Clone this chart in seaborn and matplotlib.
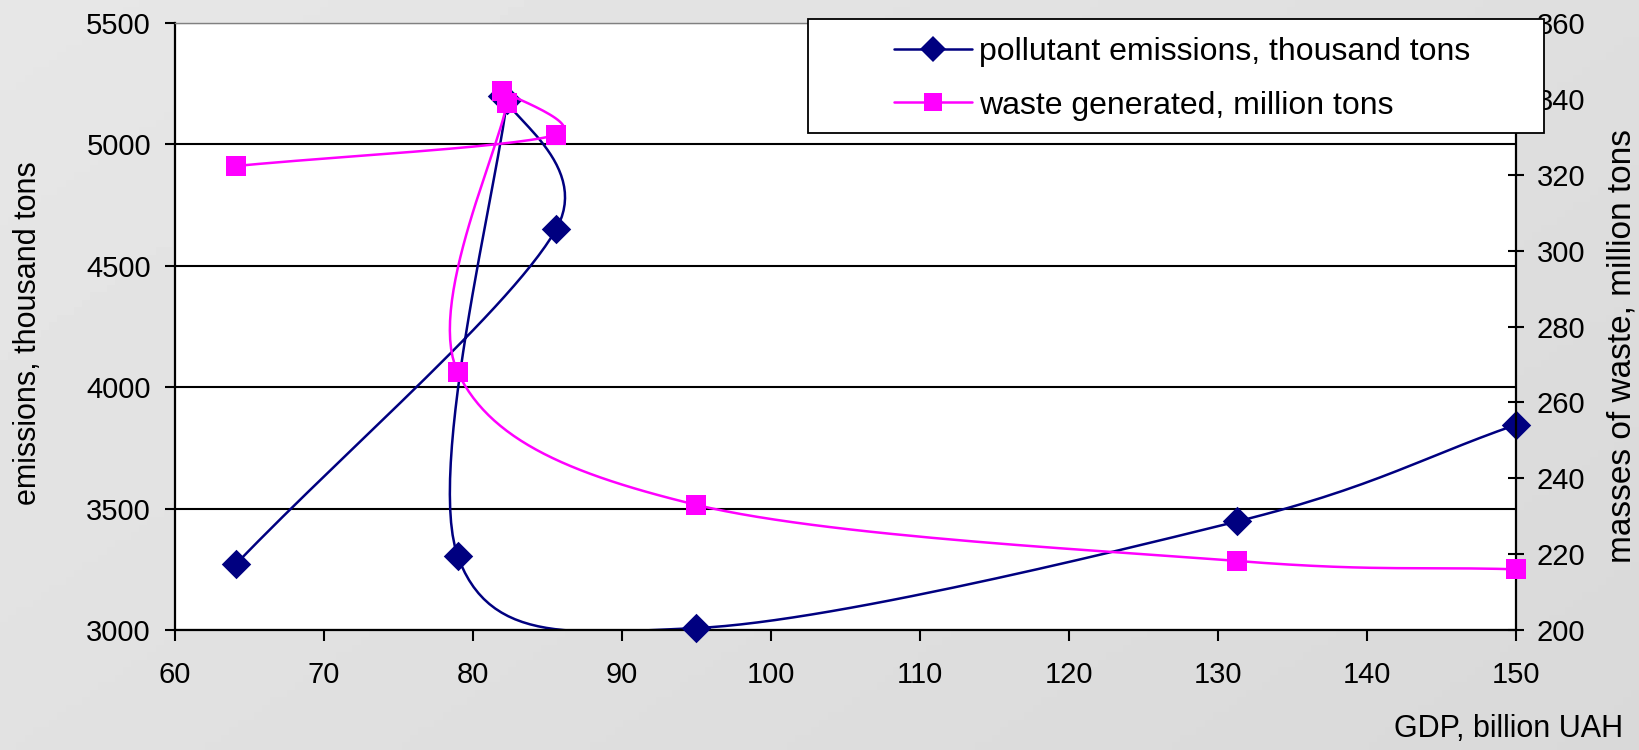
import numpy as np
import pandas as pd
import seaborn as sns
import matplotlib.pyplot as plt
from matplotlib.lines import Line2D
from matplotlib.patches import Rectangle

# GDP (billion UAH) with the two indicators, in the order the points are joined
gdp = [64.1, 85.6, 82.0, 82.3, 79.0, 95.0, 131.3, 150.0]
emissions = [3270, 4650, 5200, 5185, 3305, 3008, 3447, 3845]   # thousand tons
waste = [322.3, 330.5, 342.0, 339.0, 268.0, 233.0, 218.2, 216.0]  # million tons

emis_label = "pollutant emissions, thousand tons"
waste_label = "waste generated, million tons"

df = pd.DataFrame({"gdp": gdp, "emissions": emissions, "waste": waste})

sns.set_theme(style="white")
plt.rcParams["font.family"] = ["Liberation Sans", "DejaVu Sans"]
plt.rcParams["text.color"] = "black"

NAVY = "#000080"
MAGENTA = "#ff00ff"


def smooth(ax, xs, ys, n=30, k=0.5):
    # excel style smoothed line: bezier pieces with control points at 1/6
    # of the neighbour chord, done in screen space
    pts = ax.transData.transform(np.column_stack([xs, ys]))
    ext = np.vstack([2 * pts[0] - pts[1], pts, 2 * pts[-1] - pts[-2]])
    t = np.linspace(0, 1, n)[:, None]
    out = []
    for i in range(1, len(ext) - 2):
        p0, p1, p2, p3 = ext[i - 1], ext[i], ext[i + 1], ext[i + 2]
        seg = np.linalg.norm(p2 - p1)
        d1 = (p2 - p0) / 6
        d2 = (p3 - p1) / 6
        for d in (d1, d2):
            L = np.linalg.norm(d)
            if L > k * seg:
                d *= k * seg / L
        c1, c2 = p1 + d1, p2 - d2
        b = ((1 - t) ** 3) * p1 + 3 * ((1 - t) ** 2) * t * c1 \
            + 3 * (1 - t) * t ** 2 * c2 + t ** 3 * p2
        out.append(b if i == 1 else b[1:])
    curve = ax.transData.inverted().transform(np.vstack(out))
    return curve[:, 0], curve[:, 1]


fig = plt.figure(figsize=(16.39, 7.5), dpi=100)

# grey backdrop
bg = fig.add_axes([0, 0, 1, 1], zorder=-10)
gx, gy = np.meshgrid(np.linspace(0, 1, 200), np.linspace(0, 1, 100))
grad = 0.905 - 0.055 * (0.6 * gx + 0.4 * gy)
bg.imshow(grad, cmap="gray", vmin=0, vmax=1, aspect="auto", extent=[0, 1, 0, 1])
bg.set_axis_off()

ax = fig.add_axes([0.1065, 0.16, 0.8183, 0.8093])
ax.set_facecolor("white")
ax.set_xlim(60, 150)
ax.set_ylim(3000, 5500)
ax2 = ax.twinx()
ax2.set_position([0.1065, 0.16, 0.8183, 0.8093])
ax2.set_ylim(200, 360)

ex, ey = smooth(ax, df["gdp"], df["emissions"])
sns.lineplot(x=ex, y=ey, sort=False, estimator=None, color=NAVY, lw=1.8, ax=ax)
sns.scatterplot(data=df, x="gdp", y="emissions", marker="D", s=225, color=NAVY,
                edgecolor=NAVY, linewidth=0, zorder=3, clip_on=False, ax=ax)

wx, wy = smooth(ax2, df["gdp"], df["waste"])
sns.lineplot(x=wx, y=wy, sort=False, estimator=None, color=MAGENTA, lw=1.8, ax=ax2)
sns.scatterplot(data=df, x="gdp", y="waste", marker="s", s=190, color=MAGENTA,
                edgecolor=MAGENTA, linewidth=0, zorder=3, clip_on=False, ax=ax2)

ax.set_xlim(60, 150)
ax.set_ylim(3000, 5500)
ax2.set_ylim(200, 360)
ax.set_xticks(np.arange(60, 151, 10))
ax.set_yticks(np.arange(3000, 5501, 500))
ax2.set_yticks(np.arange(200, 361, 20))
ax.set_xlabel("")
ax.set_ylabel("")
ax2.set_ylabel("")

ax.yaxis.grid(True, color="black", lw=1.5)
ax.xaxis.grid(False)
ax.set_axisbelow(True)

for s in ["left", "bottom"]:
    ax.spines[s].set_color("black")
    ax.spines[s].set_linewidth(1.6)
ax.spines["top"].set_color("#808080")
ax.spines["top"].set_linewidth(1.0)
ax.spines["right"].set_visible(False)
ax2.spines["right"].set_color("black")
ax2.spines["right"].set_linewidth(1.6)
for s in ["left", "top", "bottom"]:
    ax2.spines[s].set_visible(False)

ax.tick_params(axis="y", left=True, direction="out", length=7, width=1.5,
               labelsize=21, pad=10, colors="black")
ax.tick_params(axis="x", bottom=True, direction="out", length=8, width=1.5,
               labelsize=21, pad=14, colors="black")
ax2.tick_params(axis="y", right=True, direction="inout", length=11, width=1.5,
                labelsize=21, pad=9.5, colors="black")

fig.text(0.9902, 0.028, "GDP, billion UAH", ha="right", va="center", fontsize=22)
fig.text(0.0171, 0.556, "emissions, thousand tons", rotation=90,
         ha="center", va="center", fontsize=22)
fig.text(0.9896, 0.539, "masses of waste, million tons", rotation=90,
         ha="center", va="center", fontsize=24)

# legend box
fig.add_artist(Rectangle((0.493, 0.8227), 0.449, 0.152, transform=fig.transFigure,
                         facecolor="white", edgecolor="black", lw=1.3, zorder=5))
handles = [
    Line2D([], [], color=NAVY, lw=1.8, marker="D", markersize=13, markeredgewidth=0),
    Line2D([], [], color=MAGENTA, lw=1.8, marker="s", markersize=13.5, markeredgewidth=0),
]
leg = fig.legend(handles, [emis_label, waste_label], loc="center left",
                 bbox_to_anchor=(0.5455, 0.895), frameon=False,
                 prop={"family": "Liberation Sans", "size": 23},
                 handlelength=2.45, handletextpad=0.2, labelspacing=0.74,
                 borderpad=0, borderaxespad=0)
leg.set_zorder(6)

fig.savefig("out.png", dpi=100, facecolor=fig.get_facecolor())
